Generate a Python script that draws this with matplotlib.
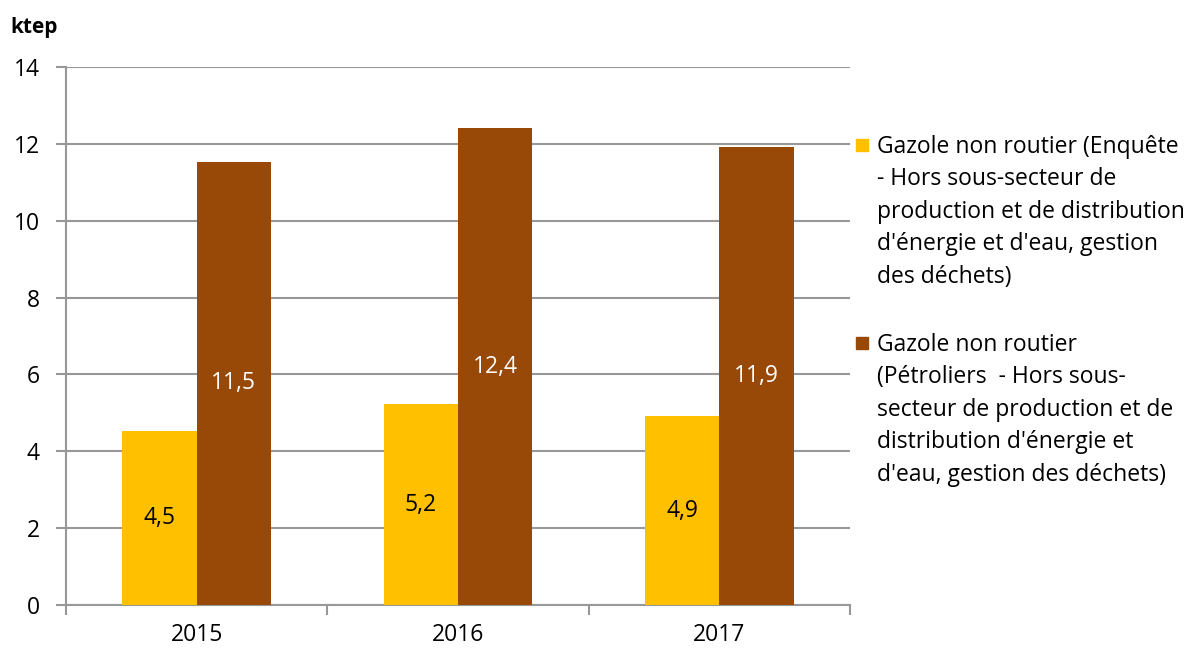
import numpy as np
import matplotlib.pyplot as plt
from matplotlib.patches import Rectangle

# -------------- DATA ---------------------------------------
years        = ["2015", "2016", "2017"]
enquete      = [4.53, 5.22, 4.91]
petroliers   = [11.53, 12.41, 11.93]
legend_labels = [
    "Gazole non routier (Enquête\n- Hors sous-secteur de\nproduction et de distribution\nd'énergie et d'eau, gestion\ndes déchets)",
    "Gazole non routier\n(Pétroliers  - Hors sous-\nsecteur de production et de\ndistribution d'énergie et\nd'eau, gestion des déchets)",
]
y_ticks = [0, 2, 4, 6, 8, 10, 12, 14]

# -------------- STYLE --------------------------------------
yellow = "#FFC000"
brown  = "#984807"
grid_c = "#989898"
plt.rcParams["font.family"] = ["Open Sans", "DejaVu Sans"]
fs = 16.5
bar_w = 0.285

fig = plt.figure(figsize=(11.93, 6.5), dpi=100)
ax = fig.add_axes([66 / 1193, 1 - 605 / 650, 784 / 1193, 538 / 650])

x = np.arange(len(years))
b1 = ax.bar(x - bar_w / 2, enquete, bar_w, color=yellow, zorder=3)
b2 = ax.bar(x + bar_w / 2, petroliers, bar_w, color=brown, zorder=3)

# value labels centred in bars (French decimal comma)
for bars, vals, col in [(b1, enquete, "black"), (b2, petroliers, "white")]:
    labels = [f"{v:.1f}".replace(".", ",") for v in vals]
    ax.bar_label(bars, labels=labels, label_type="center", color=col, fontsize=fs)

# ── Axes ───────────────────────────────────────────────────
ax.set_xlim(-0.5, len(years) - 0.5)
ax.set_ylim(0, 14)
ax.set_yticks(y_ticks)
ax.set_yticklabels([str(t) for t in y_ticks], fontsize=fs)
ax.set_xticks(x)
ax.set_xticklabels(years, fontsize=fs)
ax.set_xticks(np.arange(len(years) + 1) - 0.5, minor=True)
ax.tick_params(axis="x", which="major", length=0, pad=13)
ax.tick_params(axis="x", which="minor", length=7, width=1.5, color=grid_c)
ax.tick_params(axis="y", length=7, width=1.5, color=grid_c, pad=12)

ax.yaxis.grid(True, color=grid_c, linewidth=1.5, zorder=0)
ax.set_axisbelow(True)
for s in ["top", "right"]:
    ax.spines[s].set_visible(False)
for s in ["left", "bottom"]:
    ax.spines[s].set_color(grid_c)
    ax.spines[s].set_linewidth(1.5)

fig.text(10 / 1193, 1 - 27 / 650, "ktep", fontsize=15, fontweight="bold", va="center")

# ── Legend (drawn by hand so the marker sits on the first line) ──
for lab, col, y_mid in zip(legend_labels, [yellow, brown], [145, 343]):
    fig.add_artist(Rectangle((856 / 1193, 1 - (y_mid + 6) / 650), 12 / 1193, 12 / 650,
                             transform=fig.transFigure, color=col))
    fig.text(877 / 1193, 1 - (y_mid - 10) / 650, lab, fontsize=fs, va="top",
             linespacing=1.47)

fig.savefig("out.png", dpi=100)
